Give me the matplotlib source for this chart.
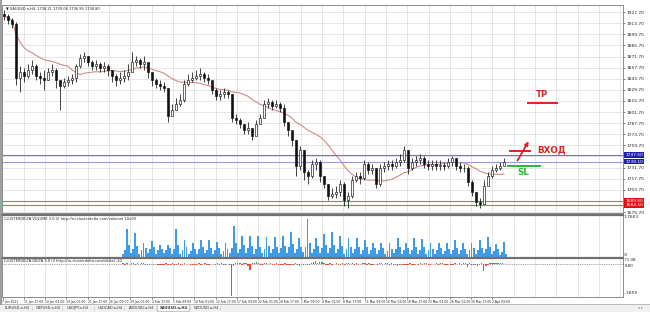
import matplotlib
matplotlib.use("Agg")
import matplotlib.pyplot as plt
import numpy as np
import pandas as pd
from matplotlib.patches import Rectangle

W, H = 650, 312

# ---------------- data ----------------
title_text = "▼ XAUUSD.a,H4  1738.21 1739.06 1736.95 1738.80"
volume_title = "CLUSTERDELTA VOLUME 3.0 (i) http://ru.clusterdelta.com/volume| 10x00"
delta_title = "CLUSTERDELTA DELTA 3.0 (i) http://ru.clusterdelta.com/delta| -20"

first_open = 1926.0
closes = [1922.9, 1917.8, 1912.8, 1844.7, 1852.2, 1847.2, 1854.8, 1859.8, 1847.2, 1844.7,
          1842.2, 1852.2, 1854.8, 1842.2, 1834.6, 1839.6, 1842.2, 1844.7, 1859.8, 1869.9,
          1872.4, 1864.9, 1859.8, 1862.3, 1857.3, 1859.8, 1854.8, 1847.2, 1842.2, 1844.7,
          1847.2, 1852.2, 1864.9, 1867.4, 1862.3, 1864.9, 1852.2, 1842.2, 1837.1, 1834.6,
          1832.1, 1796.8, 1804.3, 1811.9, 1816.9, 1837.1, 1842.2, 1844.7, 1847.2, 1849.7,
          1844.7, 1842.2, 1829.5, 1822.0, 1824.5, 1827.0, 1824.5, 1794.2, 1791.7, 1786.7,
          1779.1, 1781.6, 1771.5, 1786.7, 1794.2, 1811.9, 1814.4, 1809.4, 1811.9, 1806.8,
          1789.2, 1779.1, 1766.5, 1733.7, 1753.9, 1726.1, 1721.1, 1736.2, 1738.8, 1721.1,
          1711.0, 1695.9, 1698.4, 1700.9, 1711.0, 1690.8, 1695.9, 1716.1, 1721.1, 1718.6,
          1736.2, 1728.7, 1731.2, 1711.0, 1731.2, 1733.7, 1736.2, 1733.7, 1738.8, 1741.3,
          1753.9, 1731.2, 1738.8, 1741.3, 1743.8, 1736.2, 1733.7, 1736.2, 1733.7, 1735.0,
          1733.7, 1738.8, 1743.8, 1733.7, 1731.2, 1731.2, 1713.5, 1700.9, 1688.3, 1685.8,
          1708.5, 1721.1, 1728.7, 1731.2, 1733.7, 1738.8]
highs = [1930.4, 1925.4, 1920.3, 1915.3, 1859.8, 1857.3, 1862.3, 1867.4, 1862.3, 1852.2,
         1854.8, 1857.3, 1862.3, 1857.3, 1842.2, 1844.7, 1847.2, 1849.7, 1862.3, 1874.9,
         1877.5, 1872.4, 1867.4, 1867.4, 1864.9, 1864.9, 1862.3, 1854.8, 1849.7, 1852.2,
         1854.8, 1862.3, 1877.5, 1872.4, 1869.9, 1872.4, 1862.3, 1849.7, 1844.7, 1842.2,
         1839.6, 1829.5, 1811.9, 1819.5, 1824.5, 1842.2, 1849.7, 1852.2, 1854.8, 1857.3,
         1852.2, 1849.7, 1839.6, 1832.1, 1829.5, 1832.1, 1829.5, 1824.5, 1799.3, 1794.2,
         1786.7, 1789.2, 1781.6, 1791.7, 1799.3, 1816.9, 1819.5, 1816.9, 1816.9, 1814.4,
         1811.9, 1789.2, 1776.6, 1766.5, 1758.9, 1753.9, 1728.7, 1741.3, 1743.8, 1741.3,
         1721.1, 1711.0, 1706.0, 1708.5, 1716.1, 1713.5, 1700.9, 1721.1, 1726.1, 1726.1,
         1741.3, 1738.8, 1736.2, 1731.2, 1736.2, 1738.8, 1741.3, 1741.3, 1743.8, 1748.8,
         1758.9, 1753.9, 1743.8, 1746.3, 1748.8, 1746.3, 1741.3, 1741.3, 1741.3, 1741.3,
         1738.8, 1743.8, 1746.3, 1743.8, 1738.8, 1736.2, 1733.7, 1716.1, 1700.9, 1693.4,
         1716.1, 1726.1, 1733.7, 1736.2, 1738.8, 1743.8]
lows = [1917.8, 1912.8, 1907.7, 1835.8, 1827.0, 1839.6, 1844.7, 1849.7, 1842.2, 1837.1,
        1829.5, 1842.2, 1847.2, 1832.1, 1804.3, 1832.1, 1834.6, 1837.1, 1839.6, 1857.3,
        1864.9, 1859.8, 1854.8, 1854.8, 1852.2, 1852.2, 1847.2, 1839.6, 1834.6, 1837.1,
        1839.6, 1842.2, 1854.8, 1859.8, 1857.3, 1854.8, 1844.7, 1834.6, 1832.1, 1829.5,
        1827.0, 1789.2, 1796.8, 1804.3, 1809.4, 1814.4, 1834.6, 1839.6, 1842.2, 1842.2,
        1839.6, 1837.1, 1824.5, 1816.9, 1816.9, 1819.5, 1819.5, 1789.2, 1786.7, 1781.6,
        1774.1, 1774.1, 1766.5, 1776.6, 1786.7, 1794.2, 1806.8, 1804.3, 1806.8, 1801.8,
        1784.1, 1771.5, 1758.9, 1721.1, 1728.7, 1716.1, 1711.0, 1718.6, 1728.7, 1713.5,
        1706.0, 1690.8, 1693.4, 1693.4, 1695.9, 1683.3, 1680.7, 1693.4, 1713.5, 1711.0,
        1716.1, 1723.6, 1723.6, 1706.0, 1708.5, 1726.1, 1728.7, 1728.7, 1731.2, 1733.7,
        1738.8, 1723.6, 1728.7, 1733.7, 1736.2, 1731.2, 1728.7, 1728.7, 1728.7, 1728.7,
        1728.7, 1731.2, 1733.7, 1728.7, 1726.1, 1726.1, 1708.5, 1695.9, 1683.3, 1680.7,
        1685.8, 1713.5, 1718.6, 1726.1, 1728.7, 1733.7]
ma_period = 17

price_levels = [1675.70, 1689.70, 1703.70, 1717.70, 1731.70, 1745.70, 1759.70, 1773.70,
                1787.70, 1801.70, 1815.70, 1829.70, 1843.70, 1857.70, 1871.70, 1885.70,
                1899.70, 1913.70, 1927.70]
hidden_levels = [1689.70, 1745.70]
blue_levels = [1747.60, 1739.10]
red_levels = [1689.60, 1684.50]

tp_level = 1813.2
entry_level = 1752.6
sl_level = 1733.7
arrow_from = 1737.5
arrow_to = 1767.8

volume_days = [
    [1300, 2900, 11800, 5000], [1700, 3600, 10100, 4600], [1500, 3100, 5900, 3800],
    [1800, 3400, 6700, 4400], [1400, 2800, 5000, 3600], [1600, 3000, 5000, 3900],
    [1500, 3500, 12200, 5200], [1400, 3200, 7100, 4100], [1200, 2700, 5900, 3500],
    [1500, 3300, 7100, 4300], [1600, 3100, 7100, 4000], [1300, 2900, 6300, 3700],
    [1100, 2500, 5900, 3300], [1700, 4000, 13400, 5800], [1600, 3600, 9200, 5000],
    [1800, 3800, 9200, 4900], [1500, 3400, 8800, 4500], [1700, 3600, 8400, 4700],
    [1600, 3300, 8400, 4400], [1800, 3700, 8800, 4800], [1900, 4100, 10900, 5400],
    [1600, 3400, 8000, 4500], [2000, 4500, 16400, 6200], [1700, 3500, 8000, 4600],
    [1800, 3800, 9700, 5000], [1900, 4000, 10900, 5300], [1700, 3600, 9200, 4800],
    [1500, 3300, 8000, 4300], [1600, 3400, 8000, 4400], [1500, 3100, 7100, 4100],
    [1300, 2800, 5900, 3700], [1400, 2900, 5900, 3800], [1300, 2700, 5900, 3600],
    [1600, 3300, 8000, 4300], [1400, 2800, 5900, 3700], [1500, 3200, 8000, 4200],
    [1500, 3100, 7600, 4100], [1300, 2800, 5900, 3600], [1400, 2900, 5900, 3700],
    [1300, 2700, 5900, 3500], [1500, 3000, 7100, 4000], [1300, 2800, 5900, 3600],
    [1400, 2900, 5900, 3700], [1500, 3100, 7100, 4000], [1600, 3400, 8400, 4400],
    [1300, 2700, 5500, 3400], [1000, 2000, 6300, 1500]]
volume_max_label = "17663"

delta_days = [
    [40, -30, 60, 20], [30, 50, -40, 70], [-20, 40, 30, -50], [-30, -60, 20, -40],
    [20, -40, -70, -30], [-50, 30, -40, -60], [40, -80, -50, 30], [-30, -60, 40, -20],
    [20, -40, -30, -50], [-40, 30, -60, -20], [30, -50, -40, 20], [-20, -40, 50, -30],
    [40, -30, -60, -20], [-60, -1850, -120, 40], [50, 80, -60, 40], [30, -90, -350, 60],
    [60, 100, 40, -30], [-40, 50, 70, -20], [30, -60, -40, 50], [-50, -80, -30, 40],
    [-40, -70, -60, -30], [40, -50, -90, -20], [-30, -60, -80, -40], [60, 120, 150, 80],
    [90, 140, 60, -30], [-40, 50, -70, -20], [30, -60, -40, 40], [-30, 40, 60, -20],
    [50, -40, 30, -50], [-20, 40, 30, -30], [30, -50, -40, 20], [-40, 30, 60, -20],
    [40, 80, -30, 30], [-30, -60, -90, -40], [-50, -80, -60, -30], [30, -40, -70, -20],
    [-30, 50, -40, 30], [40, -30, -50, -20], [-20, 40, -30, 30], [30, -60, -40, 20],
    [-30, -50, 40, -20], [40, -60, 50, 30], [-160, 60, -70, -50], [-60, -90, -70, 40],
    [-400, -120, -80, 30], [50, 40, 30, 60], [40, 30, 20, 10]]
delta_top_label = "71.08"
delta_cur_label = "8.80"
delta_bottom_label = "-1859"

time_labels = ["7 Jan 2021", "11 Jan 17:00", "14 Jan 09:00", "19 Jan 01:00", "21 Jan 17:00",
               "26 Jan 09:00", "29 Jan 01:00", "2 Feb 17:00", "5 Feb 09:00", "10 Feb 01:00",
               "12 Feb 17:00", "17 Feb 09:00", "22 Feb 01:00", "24 Feb 17:00", "1 Mar 09:00",
               "4 Mar 01:00", "8 Mar 17:00", "11 Mar 09:00", "16 Mar 01:00", "18 Mar 17:00",
               "23 Mar 09:00", "26 Mar 01:00", "30 Mar 17:00", "2 Apr 09:00"]

tabs = ["EURUSD.a,H4", "GBPUSD.a,H4", "USDJPY.a,H4", "USDCAD.a,H4", "AUDUSD.a,H4",
        "XAUUSD.a,H4", "NZDUSD.a,H4"]
active_tab = "XAUUSD.a,H4"

# ---------------- layout ----------------
X0, X1 = 2, 623          # plot area in pixels
BAR_X0, BAR_DX = 4, 4    # candle spacing
DAY_X0, DAY_DX = 122, 8.2
GRID_X0, GRID_DX = 2.5, 21.3
FS = 3.2
SMALL = 2.6
TIME_FS = 2.15
NARROW = ["Liberation Sans Narrow", "DejaVu Sans Condensed", "DejaVu Sans"]
GRID_C = "#dcdcdc"


def fx(px):
    return px / W


def fy(py):
    return 1 - py / H


fig = plt.figure(figsize=(W / 100, H / 100), dpi=100)
fig.patch.set_facecolor("white")

ax = fig.add_axes([fx(X0), fy(213), (X1 - X0) / W, (213 - 5) / H])
axv = fig.add_axes([fx(X0), fy(257), (X1 - X0) / W, (257 - 215) / H])
axd = fig.add_axes([fx(X0), fy(297), (X1 - X0) / W, (297 - 258) / H])

grid_x = [GRID_X0 + GRID_DX * k for k in range(30) if GRID_X0 + GRID_DX * k < X1]

for a in (ax, axv, axd):
    a.set_xlim(X0, X1)
    a.set_facecolor("white")
    for gx in grid_x[1:]:
        a.axvline(gx, color=GRID_C, lw=0.5, zorder=0)
    for s in a.spines.values():
        s.set_color("#8c8c8c")
        s.set_linewidth(0.7)
    a.tick_params(axis="x", bottom=False, labelbottom=False)
    a.yaxis.tick_right()
    a.tick_params(axis="y", right=True, left=False, length=1.5, width=0.4,
                  labelsize=FS, pad=1, colors="#222222")

# ---------------- price ----------------
ppx = 1.261
ax.set_ylim(1675.7 - 1 * ppx, 1675.7 + 207 * ppx)
for lv in price_levels:
    ax.axhline(lv, color=GRID_C, lw=0.5, zorder=0)
shown = [lv for lv in price_levels if lv not in hidden_levels]
ax.set_yticks(shown)
ax.set_yticklabels([f"{v:.2f}" for v in shown])

n = len(closes)
xs = BAR_X0 + BAR_DX * np.arange(n)
opens = [first_open] + closes[:-1]
o = np.array(opens)
c = np.array(closes)
ax.vlines(xs, lows, highs, color="#111111", lw=0.55, zorder=3)
bottoms = np.minimum(o, c)
heights = np.maximum(np.abs(c - o), 0.6)
face = ["white" if cc >= oo else "#111111" for oo, cc in zip(o, c)]
ax.bar(xs, heights, bottom=bottoms, width=1.8, color=face, edgecolor="#111111",
       linewidth=0.45, zorder=4)

ma = pd.Series(closes).rolling(ma_period, min_periods=1).mean()
ax.plot(xs, ma, color="#d08a8a", lw=0.8, zorder=2)

ax.axhline(blue_levels[0], color="#7a7aa8", lw=0.8, zorder=2)
ax.axhline(blue_levels[1], color="#9a9ae0", lw=0.8, zorder=2)
for lv in red_levels:
    ax.axhline(lv, color="#c86a6a", lw=0.8, zorder=2)

for lv in blue_levels:
    ax.annotate(f"{lv:.2f}", xy=(1.0, lv), xycoords=("axes fraction", "data"),
                xytext=(1.5, 0), textcoords="offset points", fontsize=FS, color="white",
                va="center", ha="left", annotation_clip=False,
                bbox=dict(boxstyle="square,pad=0.15", fc="#2020b0", ec="none"))
for lv in red_levels:
    ax.annotate(f"{lv:.2f}", xy=(1.0, lv), xycoords=("axes fraction", "data"),
                xytext=(1.5, 0), textcoords="offset points", fontsize=FS, color="white",
                va="center", ha="left", annotation_clip=False,
                bbox=dict(boxstyle="square,pad=0.15", fc="#e01010", ec="none"))

# trade annotations
ax.plot([528, 557], [tp_level, tp_level], color="#e02020", lw=1.4, zorder=5)
ax.text(542.5, tp_level + 5.5, "TP", color="#e02020", fontsize=6.2, fontweight="bold",
        ha="center", va="bottom", zorder=6)
ax.plot([510, 530], [entry_level, entry_level], color="#e02020", lw=1.4, zorder=5)
ax.annotate("", xy=(530, arrow_to), xytext=(516, arrow_from),
            arrowprops=dict(arrowstyle="-|>", color="#e02020", lw=1.3,
                            mutation_scale=5), zorder=6)
ax.text(537, entry_level + 1, "ВХОД", color="#e02020", fontsize=6.3, fontweight="bold",
        ha="left", va="center", zorder=6)
ax.plot([508, 540], [sl_level, sl_level], color="#2cb82c", lw=1.4, zorder=5)
ax.text(523, sl_level - 2.5, "SL", color="#2cb82c", fontsize=6.3, fontweight="bold",
        ha="center", va="top", zorder=6)

ax.text(0.006, 0.995, title_text, transform=ax.transAxes, fontsize=SMALL, color="#222222",
        ha="left", va="top", family=NARROW)

# ---------------- volume ----------------
vol = np.array(volume_days, dtype=float)
vx = [DAY_X0 + DAY_DX * d + DAY_DX / 4 * j + 1 for d in range(vol.shape[0]) for j in range(4)]
axv.bar(vx, vol.ravel(), width=1.9, color="#3f9be6", edgecolor="none", zorder=3)
axv.set_ylim(0, 17663 * 1.02)
axv.set_yticks([])
axv.text(1.0, 1.0, " " + volume_max_label, transform=axv.transAxes, fontsize=FS,
         ha="left", va="top", color="#222222")
axv.text(1.0, 0.0, " 0", transform=axv.transAxes, fontsize=FS, ha="left", va="bottom",
         color="#222222")
axv.spines["top"].set_linewidth(1.6)
axv.spines["top"].set_color("#707070")
axv.text(0.004, 0.96, volume_title, transform=axv.transAxes, fontsize=SMALL, color="#222222",
         ha="left", va="top", family=NARROW)

# ---------------- delta ----------------
dl = np.array(delta_days, dtype=float).ravel()
dcol = ["#35b035" if v >= 0 else "#e4502a" for v in dl]
axd.bar(vx, dl, width=1.3, color=dcol, edgecolor="none", zorder=3)
axd.set_ylim(-1900, 345)
axd.axhline(0, color="#808080", lw=0.6, ls=(0, (1, 1.2)), zorder=2)
axd.set_yticks([])
axd.text(1.0, 1.0, " " + delta_top_label, transform=axd.transAxes, fontsize=2.9,
         ha="left", va="top", color="#222222")
axd.annotate(delta_cur_label, xy=(1.0, 0), xycoords=("axes fraction", "data"),
             xytext=(1.5, -1.8), textcoords="offset points", fontsize=2.9, color="#222222",
             va="center", ha="left", annotation_clip=False)
axd.text(1.0, 0.04, " " + delta_bottom_label, transform=axd.transAxes, fontsize=FS,
         ha="left", va="bottom", color="#222222")
axd.spines["top"].set_linewidth(1.6)
axd.spines["top"].set_color("#707070")
axd.text(0.004, 0.97, delta_title, transform=axd.transAxes, fontsize=SMALL, color="#222222",
         ha="left", va="top", family=NARROW)

tick_x = [GRID_X0 + GRID_DX * k for k in range(len(time_labels))]
axd.set_xticks(tick_x)
axd.set_xticklabels(time_labels, family=NARROW)
axd.tick_params(axis="x", bottom=True, labelbottom=True, length=1.5, width=0.4,
                labelsize=TIME_FS, pad=0.8, colors="#222222")
for lbl in axd.get_xticklabels():
    lbl.set_ha("left")

# ---------------- frame & tabs ----------------
fig.add_artist(Rectangle((0, fy(312)), 1, (312 - 304) / H, transform=fig.transFigure,
                         fc="#f0f0f0", ec="none"))
fig.add_artist(plt.Line2D([0, 1], [fy(304), fy(304)], transform=fig.transFigure,
                          color="#b0b0b0", lw=0.6))
fig.add_artist(plt.Line2D([fx(1), fx(1)], [fy(0), fy(304)], transform=fig.transFigure,
                          color="#8c8c8c", lw=1.2))
tab_x = 5
for t in tabs:
    wdt = 31 if t != active_tab else 34
    if t == active_tab:
        fig.add_artist(Rectangle((fx(tab_x - 3), fy(311)), (wdt - 2) / W, 7 / H,
                                 transform=fig.transFigure, fc="white", ec="#a0a0a0", lw=0.4))
    fig.text(fx(tab_x), fy(308), t, fontsize=SMALL, color="#333333", ha="left", va="center",
             family=NARROW, fontweight="bold" if t == active_tab else "normal")
    fig.text(fx(tab_x + wdt - 5), fy(308), "|", fontsize=SMALL, color="#999999",
             ha="left", va="center")
    tab_x += wdt
fig.text(fx(638), fy(308), "◂ ▸", fontsize=SMALL, color="#888888", ha="left", va="center")

fig.savefig("out.png", dpi=100, facecolor="white")
